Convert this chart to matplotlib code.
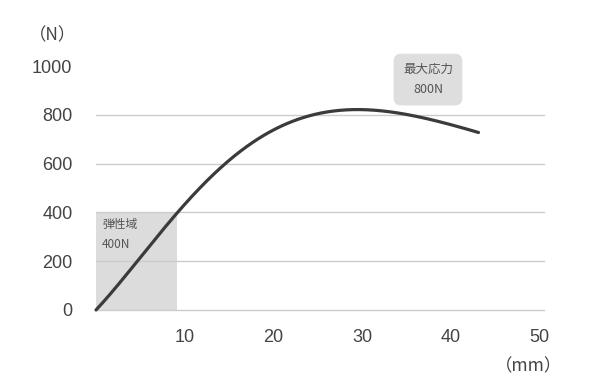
import matplotlib
matplotlib.use("Agg")
import matplotlib.pyplot as plt
import numpy as np
from matplotlib.patches import Rectangle

plt.rcParams['font.family'] = ['Noto Sans CJK JP', 'DejaVu Sans']

x_mm = [0, 2.0, 4.8, 9.0, 14.7, 18.1, 21.8, 24.0, 28.0, 30.0, 33.0, 35.3, 40.0, 43.1]
force = [0, 85, 200, 400, 600, 698, 766, 800, 823, 822, 809, 800, 762, 728]
xticks = [10, 20, 30, 40, 50]
yticks = [0, 200, 400, 600, 800, 1000]
grid_y = [0, 200, 400, 600, 800]
elastic_x = 9.1
elastic_y = 400

fig = plt.figure(figsize=(6, 3.87), dpi=100)
ax = fig.add_axes([0.16, 0.199, 0.747, 0.63])
ax.set_xlim(0, 50.5)
ax.set_ylim(0, 1000)

for g in grid_y:
    ax.axhline(g, color='#cccccc', lw=1, zorder=1, clip_on=False)

ax.add_patch(Rectangle((0, 0), elastic_x, elastic_y, facecolor='#dcdcdc', edgecolor='none', zorder=0))

# smooth least-squares curve through the read points
w = np.ones(len(x_mm)); w[0] = 20; w[-1] = 10
coef = np.polyfit(x_mm, force, 6, w=w)
cx = np.linspace(x_mm[0], x_mm[-1], 400)
cy = np.polyval(coef, cx)
ax.plot(cx, cy, color='#3d3a3d', lw=2.3, solid_capstyle='round', zorder=3, clip_on=False)

for s in ax.spines.values():
    s.set_visible(False)
ax.set_xticks(xticks)
ax.set_yticks(yticks)
ax.tick_params(length=0, labelsize=13, colors='#444444')
ax.tick_params(axis='x', pad=14)
ax.tick_params(axis='y', pad=17)
for lab in ax.get_xticklabels() + ax.get_yticklabels():
    lab.set_family('Liberation Sans')

ax.text(0.7, 378, '弾性域\n400N', fontsize=8.5, color='#555555', va='top', ha='left', linespacing=1.7, zorder=4)
ax.text(37.4, 945, '最大応力\n800N', fontsize=9, color='#555555', va='center', ha='center', linespacing=1.7, zorder=4,
        bbox=dict(boxstyle='round,pad=0.75,rounding_size=0.6', facecolor='#dedede', edgecolor='none'))

fig.text(53/600, 1-35/387, '（N）', fontsize=12.5, color='#444444', ha='center', va='center')
fig.text(529/600, 1-366/387, '（mm）', fontsize=12.5, color='#444444', ha='center', va='center')

fig.savefig('out.png', dpi=100, facecolor='white')
